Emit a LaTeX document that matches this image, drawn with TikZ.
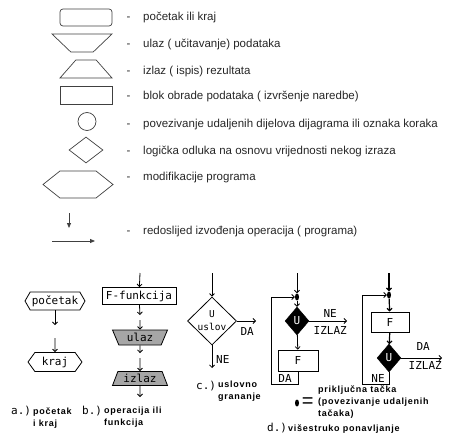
\documentclass[tikz,border=0pt]{standalone}
\usepackage{fontspec}
\setmainfont{Liberation Sans}
\newfontfamily\capfont[LetterSpace=8]{Liberation Sans}
\newfontfamily\pixfont{DejaVu Sans Mono}
\usepackage{xcolor}
\colorlet{colorLegend}{black!85}
\colorlet{colorSymbol}{black!75}
\colorlet{colorBlock}{black!35}
\usetikzlibrary{arrows.meta, shapes.geometric, shapes.symbols, positioning}
\tikzset{
  symbol/.style={draw=colorSymbol, line width=0.7pt, inner sep=1pt, minimum width=52pt, minimum height=18pt},
  legend/.style={anchor=base west, inner sep=0pt, text=colorLegend, font=\fontsize{11.5}{13}\selectfont},
  lead/.style={-{Triangle[length=5pt, width=4pt]}, line width=0.8pt, colorSymbol},
  block/.style={draw, line width=0.8pt, inner sep=1pt, font=\pixfont\fontsize{11}{12}\selectfont},
  pixtext/.style={inner sep=0pt, font=\pixfont\fontsize{11}{11}\selectfont},
  decision/.style={diamond, fill=black, draw, inner sep=0pt, minimum width=24pt, minimum height=28pt, text=white, font=\pixfont\fontsize{11}{12}\selectfont},
  joint/.style={ellipse, fill=black, inner sep=0pt, minimum width=4pt, minimum height=7pt},
  caption/.style={anchor=north west, inner sep=0pt, align=left, font=\capfont\bfseries\fontsize{9}{12}\selectfont},
  flow/.style={-{Straight Barb[length=2.5pt, width=5pt]}, line width=0.8pt}
}

\begin{document}
\begin{tikzpicture}[x=1pt, y=-1pt]
\useasboundingbox (0,0) rectangle (462,446);

% legenda
\node[symbol, rounded corners=3pt, minimum height=17pt] (s1) at (86,17.5) {};
\node[symbol, trapezium, trapezium stretches=true, shape border rotate=180, trapezium left angle=50, trapezium right angle=50, minimum width=60pt] (s2) at (82,43) {};
\node[symbol, trapezium, trapezium stretches=true, trapezium left angle=52, trapezium right angle=52] (s3) at (86,69) {};
\node[symbol] (s4) at (86,95) {};
\node[symbol, circle, minimum size=18pt] (s5) at (87,121.5) {};
\node[symbol, diamond, minimum width=34pt, minimum height=26pt] (s6) at (86,150) {};
\node[symbol, signal, signal to=west and east, signal pointer angle=77, minimum width=70pt, minimum height=27pt] (s7) at (78,184.5) {};
\coordinate (s8) at (69,213);
\coordinate (s8e) at (69,228);
\coordinate (s9) at (52,241);
\coordinate (s9e) at (95,241);
\draw[lead] (s8) -- (s8e);
\draw[lead] (s9) -- (s9e);

\node[legend] (t1) at (126.5,21) {-\hspace{12.7pt}početak ili kraj};
\node[legend] (t2) at (126.5,48) {-\hspace{12.7pt}ulaz ( učitavanje) podataka};
\node[legend] (t3) at (126.5,75) {-\hspace{12.7pt}izlaz ( ispis) rezultata};
\node[legend] (t4) at (126.5,100) {-\hspace{12.7pt}blok obrade podataka ( izvršenje naredbe)};
\node[legend] (t5) at (126.5,128) {-\hspace{12.7pt}povezivanje udaljenih dijelova dijagrama ili oznaka koraka};
\node[legend] (t6) at (126.5,155) {-\hspace{12.7pt}logička odluka na osnovu vrijednosti nekog izraza};
\node[legend] (t7) at (126.5,181) {-\hspace{12.7pt}modifikacije programa};
\node[legend] (t8) at (126.5,234) {-\hspace{12.7pt}redoslijed izvođenja operacija ( programa)};

% a.) pocetak i kraj
\node[block, signal, signal to=west and east, signal pointer angle=120, minimum width=60pt, minimum height=18pt] (a1) at (55,301) {početak};
\coordinate (a1e) at (55,325);
\coordinate (a2s) at (55,338);
\node[block, signal, signal to=west and east, signal pointer angle=108, minimum width=54pt, minimum height=19pt] (a2) at (55,362) {kraj};
\draw[flow] (a1) -- (a1e);
\draw[flow] (a2s) -- (a2);

% b.) operacija ili funkcija
\coordinate (b0) at (140,273);
\node[block, minimum width=74pt, minimum height=17pt] (b1) at (139,296) {F-funkcija};
\coordinate (b1e) at (140,315);
\coordinate (b2s) at (140,320);
\node[block, fill=colorBlock, trapezium, trapezium stretches=true, shape border rotate=180, trapezium left angle=68, trapezium right angle=68, minimum width=55pt, minimum height=15pt] (b2) at (140,337.5) {ulaz};
\coordinate (b2e) at (140,353);
\coordinate (b3s) at (140,358);
\node[block, fill=colorBlock, trapezium, trapezium stretches=true, trapezium left angle=68, trapezium right angle=68, minimum width=55pt, minimum height=14pt] (b3) at (140,378.5) {izlaz};
\coordinate (b3e) at (140,397);
\draw[flow] (b0) -- (b1);
\draw[flow] (b1) -- (b1e);
\draw[flow] (b2s) -- (b2);
\draw[flow] (b2) -- (b2e);
\draw[flow] (b3s) -- (b3);
\draw[flow] (b3) -- (b3e);

% c.) uslovno grananje
\coordinate (c0) at (212,273);
\node[block, diamond, minimum width=49pt, minimum height=48pt, label={[pixtext, align=center, font=\pixfont\fontsize{9.5}{13}\selectfont]center:U\\uslov}] (c1) at (212,321) {};
\coordinate (c2) at (256,321);
\coordinate (c3) at (212,368);
\draw[flow] (c0) -- (c1);
\draw[flow] (c1) -- (c2);
\draw[flow] (c1) -- (c3);
\node[pixtext, below left=6pt and 2pt of c2] {DA};
\node[pixtext, anchor=west] at (216,359) {NE};

% d.) visestruko ponavljanje, uslov na pocetku
\coordinate (dl0) at (297,273);
\node[joint] (dl1) at (297,297) {};
\node[decision] (dl2) at (297,321) {U};
\node[block, minimum width=40pt, minimum height=21pt] (dl3) at (298,360.5) {F};
\coordinate (dl4) at (347,321);
\coordinate (dl5) at (271,384);
\draw[flow] (dl0) -- (dl1);
\draw[flow] (dl1) -- (dl2);
\draw[flow] (dl2) -- (dl4);
\draw[flow] (dl2) -- (dl3);
\draw[flow] (dl3) |- (dl5) |- (dl1);
\node[pixtext, above left=3pt and 10pt of dl4] {NE};
\node[pixtext, below left=5pt and 0pt of dl4] {IZLAZ};
\node[pixtext] at (285,378) {DA};

% d.) uslov na kraju
\coordinate (dr0) at (389,273);
\node[joint] (dr1) at (389,295) {};
\node[block, minimum width=38pt, minimum height=20pt] (dr2) at (390,322) {F};
\node[decision] (dr3) at (389,358) {U};
\coordinate (dr4) at (442,358);
\coordinate (dr5) at (362,384);
\draw[flow, line width=1.2pt] (dr0) -- (dr1);
\draw[flow, line width=1.2pt] (dr1) -- (dr2);
\draw[flow, line width=1.2pt] (dr2) -- (dr3);
\draw[flow] (dr3) -- (dr4);
\draw[flow] (dr3) |- (dr5) |- (dr1);
\node[pixtext, above left=7pt and 12pt of dr4] {DA};
\node[pixtext, below left=3pt and 0pt of dr4] {IZLAZ};
\node[pixtext] at (378,378) {NE};

% prikljucna tacka
\node[joint] (k0) at (297,403) {};
\node[inner sep=0pt, font=\fontsize{20}{20}\selectfont, right=2.5pt of k0] (k1) {=};
\node[caption] (k2) at (318,385.5) {priključna tačka\\(povezivanje udaljenih\\tačaka)};

% potpisi
\node[pixtext, anchor=base west] (ta) at (11,414) {a.)};
\node[caption] (ca) at (33,407.5) {početak\\i kraj};
\node[pixtext, anchor=base west] (tb) at (82,414) {b.)};
\node[caption] (cb) at (104,406.5) {operacija ili\\funkcija};
\node[pixtext, anchor=base west] (tc) at (196,389) {c.)};
\node[caption] (cc) at (218,380.5) {uslovno\\grananje};
\node[pixtext, anchor=base west] (td) at (267,431) {d.)};
\node[caption] (cd) at (288,424.5) {višestruko ponavljanje};
\end{tikzpicture}
\end{document}
